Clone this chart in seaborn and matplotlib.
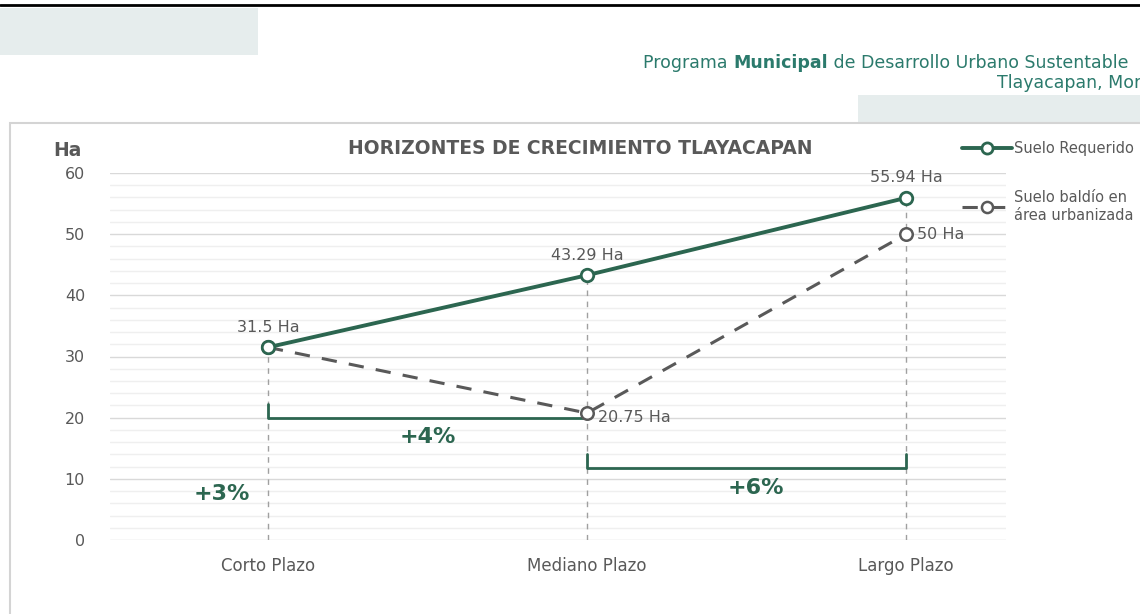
import matplotlib
matplotlib.use("Agg")
import matplotlib.pyplot as plt
from matplotlib.patches import Rectangle
from matplotlib.lines import Line2D
from matplotlib.ticker import MultipleLocator
import seaborn as sns
import pandas as pd

# ---- data ----
categories = ["Corto Plazo", "Mediano Plazo", "Largo Plazo"]
suelo_requerido = [31.5, 43.29, 55.94]
suelo_baldio = [31.5, 20.75, 50.0]
label_requerido = ["31.5 Ha", "43.29 Ha", "55.94 Ha"]
label_baldio = [None, "20.75 Ha", "50 Ha"]
series_names = ["Suelo Requerido", "Suelo baldío en\nárea urbanizada"]
growth_labels = ["+3%", "+4%", "+6%"]
bracket_levels = [20.0, 11.8]
y_ticks = [0, 10, 20, 30, 40, 50, 60]

W, H = 1140, 614
GREEN = "#2c6650"
GRAY = "#595959"
TEAL = "#2b7a6c"
PANEL = "#e6eded"

sns.set_theme(style="white")
plt.rcParams["font.family"] = ["DejaVu Sans"]

fig = plt.figure(figsize=(W / 100, H / 100), dpi=100)
fig.patch.set_facecolor("white")


def fx(x):
    return x / W


def fy(y):
    return 1 - y / H


# page header decorations
fig.add_artist(Line2D([0, 1], [fy(5), fy(5)], color="black", lw=2, transform=fig.transFigure))
fig.add_artist(Rectangle((fx(0), fy(55)), fx(258), 47 / H, transform=fig.transFigure,
                         facecolor=PANEL, edgecolor="none"))
fig.add_artist(Rectangle((fx(858), fy(123)), fx(300), 28 / H, transform=fig.transFigure,
                         facecolor=PANEL, edgecolor="none"))

renderer = fig.canvas.get_renderer()
x_cursor = 643
for piece, weight in [("Programa ", "normal"), ("Municipal", "bold"),
                      (" de Desarrollo Urbano Sustentable", "normal")]:
    t = fig.text(fx(x_cursor), fy(63), piece, color=TEAL, fontsize=12.5, va="center",
                 ha="left", fontweight=weight)
    x_cursor += t.get_window_extent(renderer).width
fig.text(fx(997), fy(83), "Tlayacapan, Morelos", color=TEAL, fontsize=12.5, va="center",
         ha="left")

# chart frame
fig.add_artist(Rectangle((fx(10), fy(700)), fx(1200), 577 / H, transform=fig.transFigure,
                         facecolor="none", edgecolor="#d4d4d4", lw=1.5))

# plot area
ax = fig.add_axes([fx(110), fy(540), 896 / W, (540 - 173) / H])
ax.set_facecolor("none")

df = pd.DataFrame({"horizonte": categories, "requerido": suelo_requerido,
                   "baldio": suelo_baldio})

# drop lines from each horizon's highest value to the baseline
tops = df[["requerido", "baldio"]].max(axis=1)
ax.vlines(range(len(categories)), 0, tops, colors="#a0a0a0", linestyles=(0, (4, 4)),
          lw=1, zorder=1)

sns.lineplot(data=df, x="horizonte", y="baldio", ax=ax, color=GRAY, lw=2.2,
             linestyle=(0, (5, 4)), marker="o", markersize=9, markerfacecolor="white",
             markeredgecolor=GRAY, markeredgewidth=1.8, zorder=3, sort=False)
sns.lineplot(data=df, x="horizonte", y="requerido", ax=ax, color=GREEN, lw=2.8,
             marker="o", markersize=9, markerfacecolor="white", markeredgecolor=GREEN,
             markeredgewidth=2, zorder=4, sort=False)

ax.set_xlim(-0.495, 2.313)
ax.set_ylim(0, 60)
ax.set_yticks(y_ticks)
ax.yaxis.set_minor_locator(MultipleLocator(2))
ax.grid(axis="y", which="major", color="#d9d9d9", lw=1, zorder=0)
ax.grid(axis="y", which="minor", color="#efefef", lw=1, zorder=0)
ax.grid(axis="x", visible=False)
for s in ax.spines.values():
    s.set_visible(False)
ax.set_xlabel("")
ax.set_ylabel("")
ax.tick_params(axis="y", which="both", length=0, pad=18, labelsize=11.5, labelcolor=GRAY)
ax.tick_params(axis="x", length=0, pad=12, labelsize=12, labelcolor=GRAY)

# value labels
for i, (v, t) in enumerate(zip(suelo_requerido, label_requerido)):
    ax.annotate(t, (i, v), xytext=(0, 9), textcoords="offset points", ha="center",
                va="bottom", fontsize=11.5, color=GRAY)
for i, (v, t) in enumerate(zip(suelo_baldio, label_baldio)):
    if t:
        ax.annotate(t, (i, v), xytext=(8, -3 if i == 1 else 0), textcoords="offset points",
                    ha="left", va="center", fontsize=11.5, color=GRAY)

# growth brackets between horizons
for k, level in enumerate(bracket_levels):
    x0, x1 = k, k + 1
    ax.plot([x0, x1], [level, level], color=GREEN, lw=2, solid_capstyle="butt", zorder=2)
    ax.plot([x0, x0], [level, level + 2.2], color=GREEN, lw=2, zorder=2)
    if k == 1:
        ax.plot([x1, x1], [level, level + 2.2], color=GREEN, lw=2, zorder=2)
ax.text(-0.145, 7.6, growth_labels[0], color=GREEN, fontsize=16, fontweight="bold",
        ha="center", va="center")
ax.text(0.5, bracket_levels[0] - 3.2, growth_labels[1], color=GREEN, fontsize=16,
        fontweight="bold", ha="center", va="center")
ax.text(1.53, bracket_levels[1] - 3.3, growth_labels[2], color=GREEN, fontsize=16,
        fontweight="bold", ha="center", va="center")

# titles
fig.text(fx(580), fy(148), "HORIZONTES DE CRECIMIENTO TLAYACAPAN", ha="center",
         va="center", fontsize=13.5, fontweight="bold", color=GRAY)
fig.text(fx(53), fy(150), "Ha", ha="left", va="center", fontsize=13.5,
         fontweight="bold", color=GRAY)

# legend
handles = [
    Line2D([], [], color=GREEN, lw=2.8, marker="o", markersize=8, markerfacecolor="white",
           markeredgecolor=GREEN, markeredgewidth=2),
    Line2D([], [], color=GRAY, lw=2.2, linestyle=(0, (5, 4)), marker="o", markersize=8,
           markerfacecolor="white", markeredgecolor=GRAY, markeredgewidth=1.8),
]
leg = ax.legend(handles, series_names, loc="upper left",
                bbox_to_anchor=(fx(962), fy(141)), bbox_transform=fig.transFigure,
                frameon=False, fontsize=10.5, handlelength=3.4, handletextpad=0.2,
                labelspacing=2.35, borderpad=0, borderaxespad=0)
for t in leg.get_texts():
    t.set_color(GRAY)

fig.savefig("out.png", dpi=100)
